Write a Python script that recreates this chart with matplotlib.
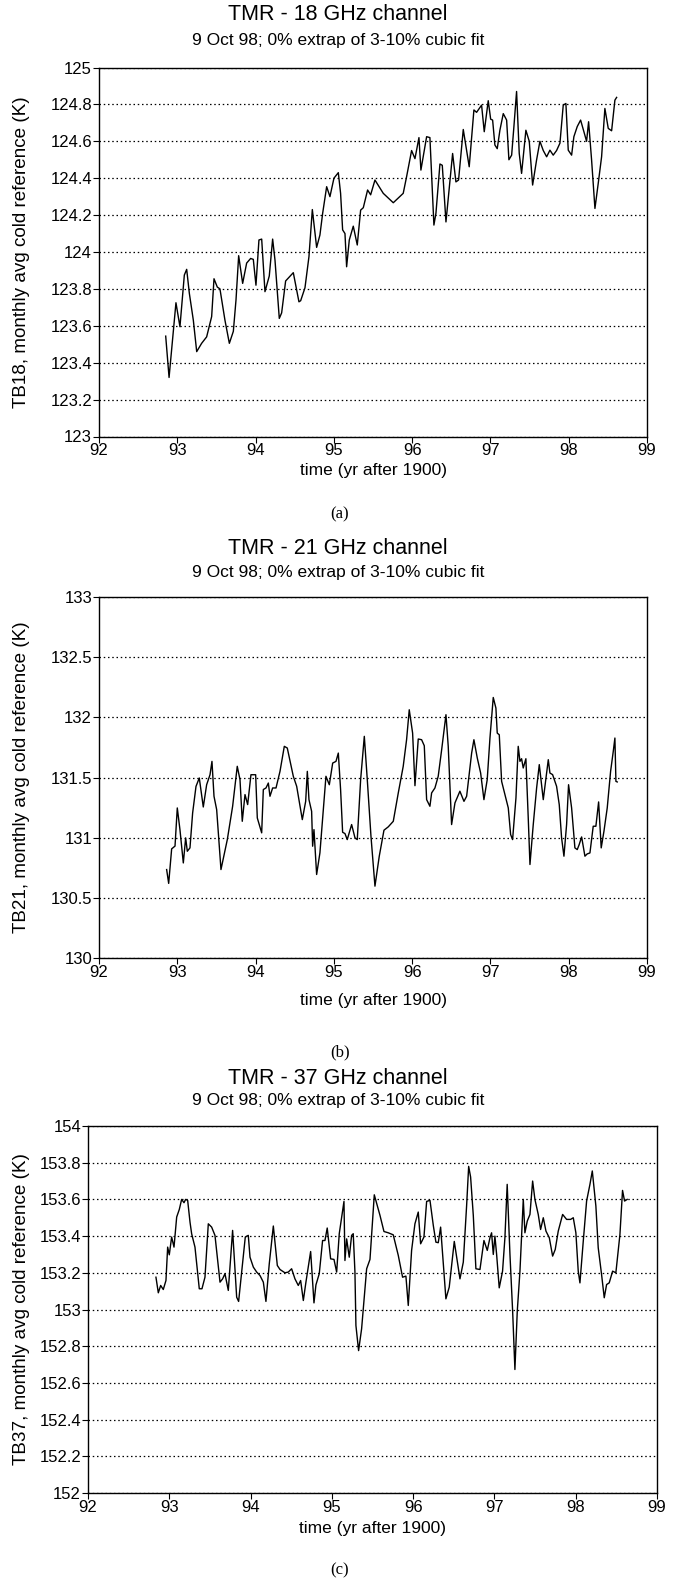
import matplotlib
matplotlib.use("Agg")
import matplotlib.pyplot as plt
import numpy as np

plt.rcParams['font.family'] = ['Liberation Sans', 'DejaVu Sans']

# ---------------- data ----------------
titles = ["TMR - 18 GHz channel", "TMR - 21 GHz channel", "TMR - 37 GHz channel"]
subtitle = "9 Oct 98; 0% extrap of 3-10% cubic fit"
ylabels = ["TB18, monthly avg cold reference (K)",
           "TB21, monthly avg cold reference (K)",
           "TB37, monthly avg cold reference (K)"]
xlabel = "time (yr after 1900)"
panel_tags = ["(a)", "(b)", "(c)"]

x_ticks = [92, 93, 94, 95, 96, 97, 98, 99]
y_ticks_a = [123, 123.2, 123.4, 123.6, 123.8, 124, 124.2, 124.4, 124.6, 124.8, 125]
y_ticks_b = [130, 130.5, 131, 131.5, 132, 132.5, 133]
y_ticks_c = [152, 152.2, 152.4, 152.6, 152.8, 153, 153.2, 153.4, 153.6, 153.8, 154]

t_a = [92.852, 92.895, 92.983, 93.034, 93.090, 93.120, 93.154, 93.205, 93.248, 93.311,
       93.375, 93.439, 93.469, 93.511, 93.545, 93.609, 93.665, 93.716, 93.750, 93.784,
       93.835, 93.886, 93.937, 93.971, 94.005, 94.043, 94.078, 94.120, 94.175, 94.218,
       94.248, 94.303, 94.333, 94.384, 94.482, 94.554, 94.576, 94.631, 94.682, 94.725,
       94.780, 94.822, 94.857, 94.908, 94.950, 95.001, 95.057, 95.086, 95.112, 95.142,
       95.163, 95.197, 95.248, 95.299, 95.342, 95.376, 95.431, 95.470, 95.525, 95.631,
       95.759, 95.886, 95.929, 95.993, 96.036, 96.087, 96.112, 96.185, 96.227, 96.278,
       96.304, 96.355, 96.385, 96.432, 96.517, 96.559, 96.593, 96.653, 96.729, 96.789,
       96.823, 96.887, 96.921, 96.972, 97.003, 97.028, 97.057, 97.087, 97.121, 97.164,
       97.207, 97.236, 97.271, 97.300, 97.334, 97.368, 97.398, 97.453, 97.496, 97.539,
       97.590, 97.632, 97.675, 97.718, 97.760, 97.802, 97.845, 97.888, 97.930, 97.964,
       97.994, 98.037, 98.066, 98.109, 98.152, 98.194, 98.228, 98.254, 98.292, 98.335,
       98.377, 98.420, 98.462, 98.505, 98.548, 98.590, 98.612]
v_a = [123.544, 123.32, 123.725, 123.595, 123.875, 123.906, 123.776, 123.63, 123.46, 123.505,
       123.54, 123.65, 123.855, 123.81, 123.80, 123.63, 123.505, 123.57, 123.74, 123.98,
       123.83, 123.94, 123.965, 123.96, 123.82, 124.065, 124.07, 123.785, 123.87, 124.07,
       123.956, 123.64, 123.67, 123.843, 123.888, 123.73, 123.736, 123.806, 123.975, 124.23,
       124.025, 124.092, 124.21, 124.354, 124.30, 124.40, 124.43, 124.318, 124.12, 124.10,
       123.92, 124.065, 124.14, 124.038, 124.227, 124.24, 124.336, 124.31, 124.39, 124.318,
       124.267, 124.318, 124.408, 124.55, 124.506, 124.62, 124.444, 124.625, 124.62, 124.146,
       124.21, 124.477, 124.47, 124.163, 124.534, 124.38, 124.39, 124.664, 124.462, 124.77,
       124.757, 124.796, 124.652, 124.82, 124.72, 124.715, 124.58, 124.56, 124.66, 124.75,
       124.715, 124.50, 124.525, 124.68, 124.87, 124.534, 124.426, 124.66, 124.60, 124.363,
       124.50, 124.60, 124.55, 124.516, 124.552, 124.525, 124.55, 124.59, 124.796, 124.805,
       124.552, 124.525, 124.625, 124.68, 124.715, 124.652, 124.60, 124.706, 124.50, 124.236,
       124.372, 124.516, 124.778, 124.67, 124.657, 124.823, 124.838]

t_b = [92.864, 92.890, 92.928, 92.971, 93.000, 93.034, 93.077, 93.107, 93.128, 93.162,
       93.196, 93.239, 93.281, 93.332, 93.375, 93.418, 93.443, 93.469, 93.503, 93.558,
       93.639, 93.707, 93.766, 93.801, 93.830, 93.865, 93.899, 93.941, 94.001, 94.022,
       94.078, 94.099, 94.133, 94.163, 94.184, 94.218, 94.261, 94.312, 94.367, 94.405,
       94.482, 94.525, 94.597, 94.640, 94.661, 94.682, 94.716, 94.729, 94.746, 94.780,
       94.822, 94.865, 94.899, 94.942, 94.985, 95.027, 95.057, 95.086, 95.112, 95.142,
       95.171, 95.227, 95.270, 95.299, 95.342, 95.389, 95.427, 95.474, 95.525, 95.580,
       95.640, 95.695, 95.759, 95.823, 95.886, 95.929, 95.963, 96.006, 96.036, 96.078,
       96.121, 96.155, 96.185, 96.227, 96.249, 96.291, 96.333, 96.377, 96.432, 96.461,
       96.504, 96.547, 96.610, 96.662, 96.696, 96.760, 96.789, 96.832, 96.875, 96.917,
       96.959, 96.994, 97.036, 97.070, 97.087, 97.113, 97.143, 97.185, 97.228, 97.258,
       97.283, 97.326, 97.355, 97.377, 97.398, 97.419, 97.453, 97.483, 97.505, 97.547,
       97.590, 97.624, 97.654, 97.675, 97.709, 97.739, 97.760, 97.794, 97.845, 97.879,
       97.909, 97.939, 97.973, 97.998, 98.037, 98.079, 98.109, 98.134, 98.165, 98.207,
       98.236, 98.271, 98.313, 98.347, 98.382, 98.415, 98.450, 98.492, 98.535, 98.569,
       98.590, 98.603, 98.620]
v_b = [130.735, 130.62, 130.907, 130.93, 131.247, 131.067, 130.79, 130.998, 130.887, 130.915,
       131.205, 131.426, 131.496, 131.255, 131.44, 131.523, 131.634, 131.344, 131.233, 130.735,
       130.984, 131.261, 131.593, 131.482, 131.136, 131.358, 131.275, 131.523, 131.523, 131.164,
       131.04, 131.40, 131.413, 131.454, 131.344, 131.413, 131.413, 131.551, 131.759, 131.745,
       131.51, 131.427, 131.15, 131.302, 131.551, 131.316, 131.219, 130.929, 131.067, 130.694,
       130.874, 131.233, 131.51, 131.44, 131.62, 131.634, 131.703, 131.40, 131.045, 131.034,
       130.984, 131.109, 130.998, 130.984, 131.482, 131.842, 131.482, 131.012, 130.597, 130.846,
       131.062, 131.09, 131.136, 131.372, 131.593, 131.814, 132.063, 131.869, 131.432, 131.82,
       131.814, 131.764, 131.316, 131.261, 131.372, 131.413, 131.51, 131.731, 132.022, 131.759,
       131.109, 131.289, 131.386, 131.302, 131.344, 131.703, 131.814, 131.662, 131.537, 131.316,
       131.482, 131.828, 132.165, 132.077, 131.869, 131.855, 131.468, 131.358, 131.247, 131.026,
       130.984, 131.33, 131.759, 131.634, 131.656, 131.579, 131.656, 131.164, 130.777, 131.109,
       131.413, 131.607, 131.44, 131.316, 131.496, 131.648, 131.537, 131.524, 131.427, 131.275,
       130.998, 130.846, 131.109, 131.44, 131.247, 130.915, 130.901, 130.943, 131.006, 130.846,
       130.865, 130.873, 131.095, 131.095, 131.297, 130.915, 131.053, 131.247, 131.551, 131.717,
       131.828, 131.468, 131.463]

t_c = [92.836, 92.865, 92.894, 92.926, 92.959, 92.980, 93.000, 93.029, 93.058, 93.091,
       93.123, 93.152, 93.181, 93.201, 93.226, 93.255, 93.275, 93.316, 93.369, 93.402,
       93.439, 93.480, 93.521, 93.562, 93.624, 93.656, 93.685, 93.726, 93.779, 93.829,
       93.853, 93.890, 93.935, 93.972, 93.993, 94.034, 94.075, 94.116, 94.157, 94.189,
       94.230, 94.280, 94.329, 94.362, 94.423, 94.464, 94.505, 94.546, 94.587, 94.616,
       94.649, 94.681, 94.739, 94.780, 94.804, 94.845, 94.886, 94.915, 94.943, 94.985,
       95.026, 95.059, 95.091, 95.149, 95.161, 95.182, 95.214, 95.243, 95.263, 95.284,
       95.296, 95.329, 95.366, 95.428, 95.469, 95.522, 95.592, 95.641, 95.694, 95.755,
       95.817, 95.870, 95.911, 95.940, 95.981, 96.022, 96.063, 96.092, 96.133, 96.166,
       96.207, 96.248, 96.280, 96.309, 96.338, 96.403, 96.444, 96.506, 96.576, 96.617,
       96.658, 96.683, 96.707, 96.740, 96.772, 96.822, 96.871, 96.912, 96.945, 96.965,
       96.986, 97.006, 97.027, 97.059, 97.100, 97.129, 97.157, 97.191, 97.224, 97.252,
       97.281, 97.314, 97.355, 97.375, 97.404, 97.437, 97.470, 97.498, 97.539, 97.568,
       97.601, 97.634, 97.675, 97.716, 97.748, 97.785, 97.839, 97.888, 97.937, 97.970,
       98.002, 98.031, 98.052, 98.093, 98.134, 98.175, 98.204, 98.248, 98.277, 98.318,
       98.351, 98.380, 98.412, 98.454, 98.494, 98.544, 98.576, 98.601, 98.633]
v_c = [153.176, 153.091, 153.131, 153.109, 153.158, 153.34, 153.298, 153.395, 153.34, 153.504,
       153.545, 153.60, 153.582, 153.60, 153.595, 153.476, 153.413, 153.34, 153.113, 153.113,
       153.176, 153.467, 153.449, 153.404, 153.149, 153.167, 153.195, 153.104, 153.431, 153.067,
       153.044, 153.204, 153.395, 153.404, 153.285, 153.231, 153.204, 153.185, 153.149, 153.044,
       153.249, 153.455, 153.24, 153.218, 153.20, 153.204, 153.222, 153.167, 153.131, 153.158,
       153.049, 153.149, 153.316, 153.036, 153.134, 153.195, 153.376, 153.376, 153.444, 153.276,
       153.273, 153.204, 153.413, 153.589, 153.267, 153.385, 153.285, 153.404, 153.413, 153.204,
       152.913, 152.776, 152.895, 153.222, 153.273, 153.625, 153.513, 153.425, 153.418, 153.407,
       153.295, 153.176, 153.182, 153.022, 153.322, 153.467, 153.531, 153.358, 153.395, 153.589,
       153.595, 153.458, 153.367, 153.364, 153.449, 153.058, 153.122, 153.371, 153.167, 153.258,
       153.567, 153.78, 153.722, 153.513, 153.222, 153.218, 153.376, 153.322, 153.391, 153.418,
       153.30, 153.40, 153.30, 153.118, 153.209, 153.391, 153.682, 153.30, 152.991, 152.673,
       152.991, 153.209, 153.60, 153.418, 153.482, 153.518, 153.70, 153.60, 153.518, 153.436,
       153.50, 153.427, 153.391, 153.291, 153.327, 153.427, 153.518, 153.491, 153.491, 153.50,
       153.418, 153.209, 153.145, 153.373, 153.591, 153.682, 153.755, 153.564, 153.336, 153.191,
       153.064, 153.136, 153.145, 153.209, 153.20, 153.409, 153.649, 153.591, 153.60]

# ---------------- layout (pixels) ----------------
W, H = 673, 1581
fig = plt.figure(figsize=(W / 100, H / 100), dpi=100)


def rect(l, r, t, b):
    return [l / W, 1 - b / H, (r - l) / W, (b - t) / H]


panels = [
    dict(box=(99, 647, 67.5, 436.5), t=t_a, v=v_a, yt=y_ticks_a, title_y=14, sub_y=40,
         xl_y=470, tag_y=514),
    dict(box=(99, 647, 597, 958), t=t_b, v=v_b, yt=y_ticks_b, title_y=548, sub_y=572,
         xl_y=1000, tag_y=1052),
    dict(box=(88, 657, 1126, 1493), t=t_c, v=v_c, yt=y_ticks_c, title_y=1078, sub_y=1101,
         xl_y=1529, tag_y=1570),
]


def fmt(v):
    s = ("%.1f" % v)
    return s[:-2] if s.endswith(".0") else s


for i, p in enumerate(panels):
    l, r, t, b = p["box"]
    ax = fig.add_axes(rect(l, r, t, b))
    ax.plot(p["t"], p["v"], color="black", lw=1.0, zorder=3)
    ax.set_xlim(92, 99)
    ax.set_ylim(p["yt"][0], p["yt"][-1])
    ax.set_xticks(x_ticks)
    ax.set_xticklabels([str(x) for x in x_ticks])
    ax.set_yticks(p["yt"])
    ax.set_yticklabels([fmt(y) for y in p["yt"]])
    ax.tick_params(axis="both", direction="out", length=4, width=0.8, labelsize=12,
                   colors="black", pad=1)
    ax.yaxis.grid(True, linestyle=(0, (1.2, 2.2)), color="black", lw=0.9, zorder=1)
    for s in ax.spines.values():
        s.set_linewidth(1.0)
        s.set_color("black")
    cx = (l + r) / 2
    cy = (t + b) / 2
    fig.text(338 / W, 1 - p["title_y"] / H, titles[i], ha="center", va="center",
             fontsize=15.5)
    fig.text(338 / W, 1 - p["sub_y"] / H, subtitle, ha="center", va="center",
             fontsize=12.5)
    fig.text(cx / W, 1 - p["xl_y"] / H, xlabel, ha="center", va="center", fontsize=12.5)
    fig.text(22 / W, 1 - cy / H, ylabels[i], ha="center", va="center", rotation=90,
             fontsize=13.6)
    fig.text(340 / W, 1 - p["tag_y"] / H, panel_tags[i], ha="center", va="center",
             fontsize=12, family=["Liberation Serif", "DejaVu Serif"])

fig.savefig("out.png", dpi=100, facecolor="white")
